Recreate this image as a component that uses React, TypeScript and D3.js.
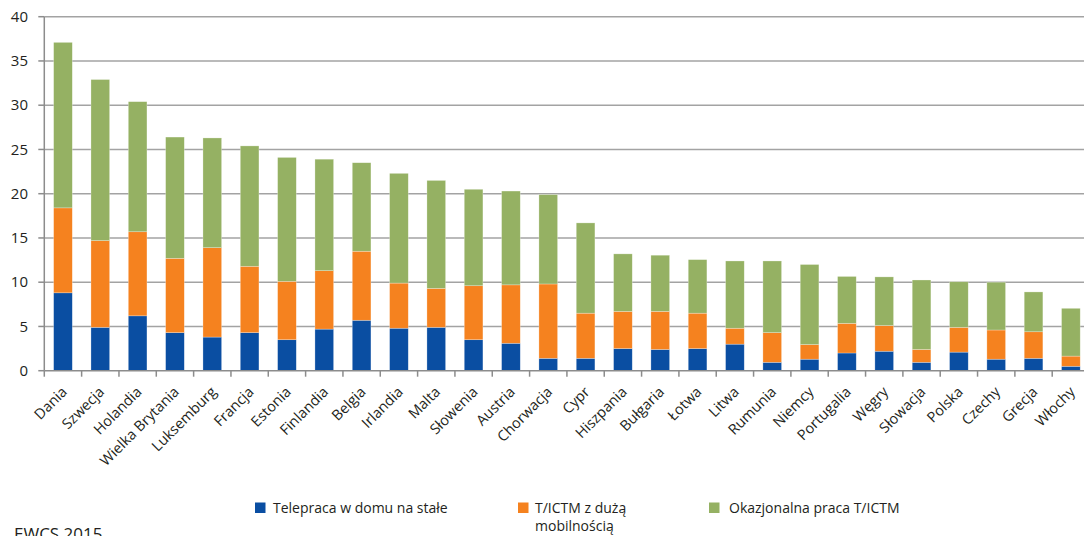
import React, { useEffect, useRef } from "react";
import * as d3 from "d3";

const countries = [
  "Dania", "Szwecja", "Holandia", "Wielka Brytania", "Luksemburg", "Francja", "Estonia",
  "Finlandia", "Belgia", "Irlandia", "Malta", "Słowenia", "Austria", "Chorwacja", "Cypr",
  "Hiszpania", "Bułgaria", "Łotwa", "Litwa", "Rumunia", "Niemcy", "Portugalia", "Węgry",
  "Słowacja", "Polska", "Czechy", "Grecja", "Włochy",
];

// Telepraca w domu na stałe
const homeBased = [
  8.8, 4.9, 6.2, 4.3, 3.8, 4.3, 3.5, 4.7, 5.7, 4.8, 4.9, 3.5, 3.1, 1.4, 1.4,
  2.5, 2.4, 2.5, 3.0, 0.95, 1.3, 2.0, 2.2, 0.95, 2.1, 1.3, 1.4, 0.5,
];
// T/ICTM z dużą mobilnością
const highlyMobile = [
  9.6, 9.8, 9.5, 8.4, 10.1, 7.5, 6.6, 6.6, 7.8, 5.1, 4.4, 6.1, 6.6, 8.4, 5.1,
  4.2, 4.3, 4.0, 1.8, 3.35, 1.65, 3.35, 2.9, 1.45, 2.8, 3.3, 3.0, 1.15,
];
// Okazjonalna praca T/ICTM
const occasional = [
  18.7, 18.2, 14.7, 13.7, 12.4, 13.6, 14.0, 12.6, 10.0, 12.4, 12.2, 10.9, 10.6, 10.1, 10.2,
  6.5, 6.35, 6.05, 7.6, 8.1, 9.05, 5.3, 5.5, 7.85, 5.15, 5.4, 4.5, 5.4,
];

const seriesKeys = ["home", "mobile", "occasional"];
const seriesColors = ["#0a4ea2", "#f5821f", "#95b163"];
const yTicks = [0, 5, 10, 15, 20, 25, 30, 35, 40];

const W = 1084;
const H = 536;
const FONT = "'Open Sans', 'Noto Sans', sans-serif";

export default function App() {
  const ref = useRef<SVGSVGElement | null>(null);

  useEffect(() => {
    const svg = d3.select(ref.current);
    svg.selectAll("*").remove();

    const left = 44.3;
    const top = 16.7;
    const bottom = 370.7;
    const step = 37.33;

    const x = d3
      .scaleBand<string>()
      .domain(countries)
      .range([left, left + step * countries.length])
      .paddingInner(0.5)
      .paddingOuter(0.25);

    const y = d3.scaleLinear().domain([0, 40]).range([bottom, top]);

    const rows = countries.map((c, i) => ({
      country: c,
      home: homeBased[i],
      mobile: highlyMobile[i],
      occasional: occasional[i],
    }));
    const stacked = d3.stack<any>().keys(seriesKeys)(rows);

    // horizontal gridlines
    svg
      .append("g")
      .selectAll("line")
      .data(yTicks.filter((t) => t > 0))
      .join("line")
      .attr("x1", left)
      .attr("x2", W)
      .attr("y1", (d) => y(d))
      .attr("y2", (d) => y(d))
      .attr("stroke", "#a3a3a3")
      .attr("stroke-width", 1.5);

    // stacked bars
    svg
      .append("g")
      .selectAll("g")
      .data(stacked)
      .join("g")
      .attr("fill", (_, i) => seriesColors[i])
      .selectAll("rect")
      .data((s) => s)
      .join("rect")
      .attr("x", (d: any) => x(d.data.country)!)
      .attr("width", x.bandwidth())
      .attr("y", (d: any) => y(d[1]))
      .attr("height", (d: any) => y(d[0]) - y(d[1]))
      .attr("stroke", "#ffffff")
      .attr("stroke-opacity", 0.45)
      .attr("stroke-width", 0.6);

    // y axis line and ticks
    const axisColor = "#8c8c8c";
    svg
      .append("line")
      .attr("x1", left)
      .attr("x2", left)
      .attr("y1", top)
      .attr("y2", bottom)
      .attr("stroke", axisColor)
      .attr("stroke-width", 1.5);
    svg
      .append("g")
      .selectAll("line")
      .data(yTicks)
      .join("line")
      .attr("x1", left - 6)
      .attr("x2", left)
      .attr("y1", (d) => y(d))
      .attr("y2", (d) => y(d))
      .attr("stroke", axisColor)
      .attr("stroke-width", 1.5);
    svg
      .append("g")
      .selectAll("text")
      .data(yTicks)
      .join("text")
      .attr("x", 28)
      .attr("y", (d) => y(d))
      .attr("dy", "0.35em")
      .attr("text-anchor", "end")
      .attr("font-family", FONT)
      .attr("font-size", 15)
      .attr("fill", "#231f20")
      .text((d) => d);

    // x axis line and category boundary ticks
    svg
      .append("line")
      .attr("x1", left)
      .attr("x2", W)
      .attr("y1", bottom)
      .attr("y2", bottom)
      .attr("stroke", axisColor)
      .attr("stroke-width", 1.5);
    const boundaries = d3.range(countries.length + 1).map((i) => left + i * step);
    svg
      .append("g")
      .selectAll("line")
      .data(boundaries)
      .join("line")
      .attr("x1", (d) => d)
      .attr("x2", (d) => d)
      .attr("y1", bottom)
      .attr("y2", bottom + 6)
      .attr("stroke", axisColor)
      .attr("stroke-width", 1.5);

    // rotated category labels
    svg
      .append("g")
      .selectAll("text")
      .data(countries)
      .join("text")
      .attr("transform", (d) => {
        const cx = x(d)! + x.bandwidth() / 2 + 5;
        return `translate(${cx},${bottom + 22}) rotate(-45)`;
      })
      .attr("text-anchor", "end")
      .attr("font-family", FONT)
      .attr("font-size", 14.5)
      .attr("fill", "#231f20")
      .text((d) => d);

    // legend
    const legend = [
      { label: ["Telepraca w domu na stałe"], sx: 255, tx: 273 },
      { label: ["T/ICTM z dużą", "mobilnością"], sx: 518, tx: 535 },
      { label: ["Okazjonalna praca T/ICTM"], sx: 709, tx: 729 },
    ];
    const lg = svg.append("g");
    legend.forEach((item, i) => {
      lg.append("rect")
        .attr("x", item.sx)
        .attr("y", 502.5)
        .attr("width", 10.5)
        .attr("height", 10.5)
        .attr("fill", seriesColors[i]);
      const t = lg
        .append("text")
        .attr("x", item.tx)
        .attr("y", 513)
        .attr("font-family", FONT)
        .attr("font-size", 14)
        .attr("fill", "#231f20");
      item.label.forEach((line, j) => {
        t.append("tspan").attr("x", item.tx).attr("dy", j === 0 ? 0 : 18).text(line);
      });
    });

    // source note
    svg
      .append("text")
      .attr("x", 14)
      .attr("y", 540)
      .attr("font-family", FONT)
      .attr("font-size", 17)
      .attr("fill", "#231f20")
      .text("EWCS 2015");
  }, []);

  return (
    <svg
      ref={ref}
      width={W}
      height={H}
      style={{ position: "absolute", left: 0, top: 0, background: "#ffffff" }}
    />
  );
}
